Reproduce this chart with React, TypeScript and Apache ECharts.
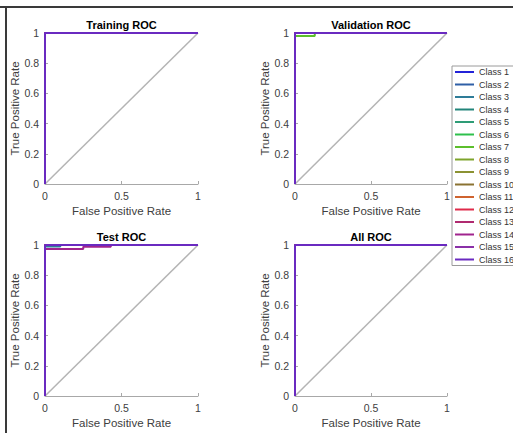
import React, { useEffect, useRef } from "react";
import * as echarts from "echarts";

const classNames = [
  "Class 1", "Class 2", "Class 3", "Class 4", "Class 5", "Class 6", "Class 7", "Class 8",
  "Class 9", "Class 10", "Class 11", "Class 12", "Class 13", "Class 14", "Class 15", "Class 16",
];
const classColors = [
  "#2323d8", "#2f5fa6", "#2e7c98", "#22857a", "#2e9c76", "#2ec04c", "#5cbf2c", "#7ea42c",
  "#8b9232", "#8a7232", "#cf632f", "#df2a4a", "#b02a70", "#a0248e", "#8a30a8", "#6a2ac0",
];
const panelTitles = ["Training ROC", "Validation ROC", "Test ROC", "All ROC"];

// ROC points (false positive rate, true positive rate)
const perfectFpr = [0, 0, 1];
const perfectTpr = [0, 1, 1];
const valClass7Fpr = [0, 0, 0.13, 0.13, 1];
const valClass7Tpr = [0, 0.98, 0.98, 1, 1];
const testClass3Fpr = [0, 0, 0.1, 0.1, 1];
const testClass3Tpr = [0, 0.99, 0.99, 1, 1];
const testClass14Fpr = [0, 0, 0.25, 0.25, 0.43, 0.43, 1];
const testClass14Tpr = [0, 0.973, 0.973, 0.988, 0.988, 1, 1];
const chanceFpr = [0, 1];
const chanceTpr = [0, 1];

const specialCurves: Record<string, [number[], number[]]> = {
  "1-6": [valClass7Fpr, valClass7Tpr],
  "2-2": [testClass3Fpr, testClass3Tpr],
  "2-13": [testClass14Fpr, testClass14Tpr],
};

const grids = [
  { left: 45, top: 33, width: 153, height: 151 },
  { left: 295, top: 33, width: 152, height: 151 },
  { left: 45, top: 245, width: 153, height: 151 },
  { left: 295, top: 245, width: 152, height: 151 },
];

const FONT = "'Liberation Sans', Arial, sans-serif";

function pairs(xs: number[], ys: number[]) {
  return xs.map((x, i) => [x, ys[i]]);
}

export default function App() {
  const ref = useRef<HTMLDivElement>(null);
  useEffect(() => {
    document.body.style.margin = "0";
    const chart = echarts.init(ref.current!, null, { renderer: "svg" });
    const series: any[] = [];
    grids.forEach((_, p) => {
      series.push({
        name: "Chance",
        type: "line",
        xAxisIndex: p,
        yAxisIndex: p,
        data: pairs(chanceFpr, chanceTpr),
        showSymbol: false,
        symbol: "none",
        silent: true,
        clip: false,
        lineStyle: { color: "#b4b4b4", width: 1.5 },
        itemStyle: { color: "#b4b4b4" },
      });
      classNames.forEach((name, c) => {
        const sp = specialCurves[`${p}-${c}`];
        const fpr = sp ? sp[0] : perfectFpr;
        const tpr = sp ? sp[1] : perfectTpr;
        series.push({
          name,
          type: "line",
          xAxisIndex: p,
          yAxisIndex: p,
          data: pairs(fpr, tpr),
          showSymbol: false,
          symbol: "none",
          clip: false,
          lineStyle: { color: classColors[c], width: 2 },
          itemStyle: { color: classColors[c] },
        });
      });
    });
    const axisCommon = {
      type: "value",
      min: 0,
      max: 1,
      nameLocation: "middle",
      nameTextStyle: { fontSize: 11.5, color: "#404040", fontFamily: FONT },
      axisLine: { show: true, lineStyle: { color: "#a8a8a8", width: 1 } },
      axisTick: { show: true, inside: true, length: 3, lineStyle: { color: "#a8a8a8" } },
      splitLine: { show: false },
      axisLabel: { fontSize: 10.5, color: "#404040", fontFamily: FONT, margin: 6 },
    };
    chart.setOption({
      animation: false,
      backgroundColor: "#ffffff",
      title: grids.map((g, i) => ({
        text: panelTitles[i],
        left: g.left + g.width / 2,
        top: g.top - 14,
        textAlign: "center",
        padding: 0,
        textStyle: { fontSize: 11, fontWeight: "bold", color: "#000", fontFamily: FONT },
      })),
      grid: grids,
      xAxis: grids.map((_, i) => ({
        ...axisCommon,
        gridIndex: i,
        interval: 0.5,
        name: "False Positive Rate",
        nameGap: 21,
      })),
      yAxis: grids.map((_, i) => ({
        ...axisCommon,
        gridIndex: i,
        interval: 0.2,
        name: "True Positive Rate",
        nameGap: 21,
      })),
      legend: {
        data: classNames,
        orient: "vertical",
        left: 452,
        top: 66,
        icon: "rect",
        itemWidth: 19,
        itemHeight: 2,
        itemGap: 2.5,
        itemTextGap: 2,
        padding: [1, 1, 1, 3],
        borderColor: "#9a9a9a",
        borderWidth: 1,
        selectedMode: false,
        textStyle: { fontSize: 9, color: "#333", fontFamily: FONT, lineHeight: 10, overflow: "none" },
      },
      graphic: [
        { type: "line", shape: { x1: 0, y1: 7, x2: 513, y2: 7 }, style: { stroke: "#3a3a3a", lineWidth: 2 } },
        { type: "line", shape: { x1: 6, y1: 6, x2: 6, y2: 433 }, style: { stroke: "#3a3a3a", lineWidth: 2 } },
      ],
      series,
    });
    return () => chart.dispose();
  }, []);
  return <div ref={ref} style={{ width: 513, height: 433 }} />;
}
